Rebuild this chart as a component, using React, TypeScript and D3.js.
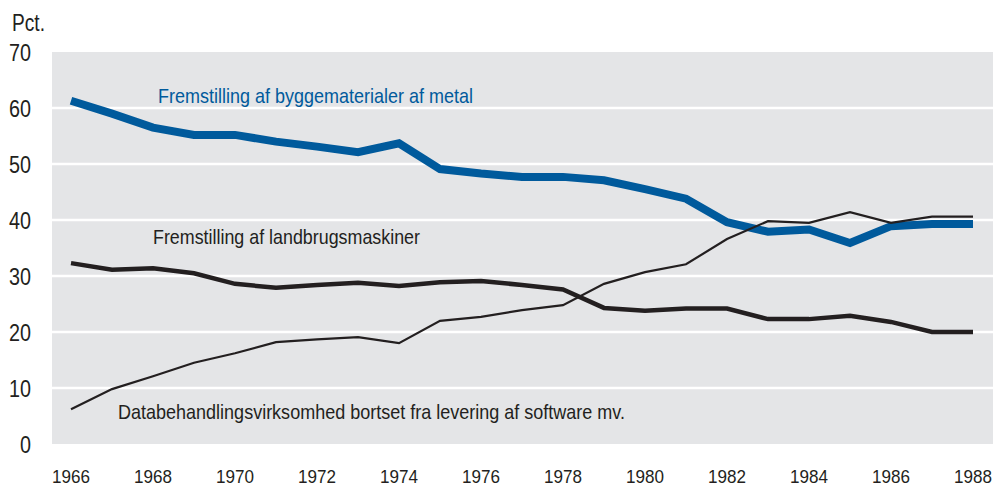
import React from "react";
import * as d3 from "d3";

// data
const years = [
	1966, 1967, 1968, 1969, 1970, 1971, 1972, 1973, 1974, 1975, 1976, 1977,
	1978, 1979, 1980, 1981, 1982, 1983, 1984, 1985, 1986, 1987, 1988,
];
const metal = [
	61.3, 59.0, 56.5, 55.2, 55.2, 54.0, 53.1, 52.1, 53.7, 49.1, 48.3, 47.7,
	47.7, 47.1, 45.5, 43.8, 39.6, 37.9, 38.3, 35.9, 38.9, 39.3, 39.3,
];
const landbrug = [
	32.3, 31.1, 31.4, 30.5, 28.6, 27.9, 28.4, 28.8, 28.2, 28.9, 29.1, 28.4,
	27.6, 24.3, 23.8, 24.2, 24.2, 22.3, 22.3, 22.9, 21.8, 20.0, 20.0,
];
const databeh = [
	6.2, 9.8, 12.1, 14.5, 16.2, 18.2, 18.7, 19.1, 18.0, 22.0, 22.7, 23.9,
	24.8, 28.6, 30.7, 32.1, 36.6, 39.8, 39.5, 41.4, 39.5, 40.6, 40.6,
];
const yTicks = [0, 10, 20, 30, 40, 50, 60, 70];
const xTicks = [1966, 1968, 1970, 1972, 1974, 1976, 1978, 1980, 1982, 1984, 1986, 1988];

const font = "'Liberation Sans', Arial, Helvetica, sans-serif";
const blue = "#005a9c";
const ink = "#231f20";

const App = () => {
	const width = 995;
	const height = 488;
	const plotLeft = 52;
	const plotRight = 993;

	const xScale = d3.scaleLinear().domain([1966, 1988]).range([71, 973]);
	const yScale = d3.scaleLinear().domain([0, 70]).range([444, 52]);

	const line = d3
		.line<number>()
		.x((d, i) => xScale(years[i]))
		.y((d) => yScale(d));

	// condensed look: squeeze glyphs to the widths measured on the reference
	const squeeze = { lengthAdjust: "spacingAndGlyphs" as const };

	return (
		<svg
			width={width}
			height={height}
			style={{ position: "absolute", left: 0, top: 0, background: "#fff" }}
			fontFamily={font}
		>
			<rect
				x={plotLeft}
				y={yScale(70)}
				width={plotRight - plotLeft}
				height={yScale(0) - yScale(70)}
				fill="#e4e5e7"
			/>
			{yTicks
				.filter((t) => t > 0 && t < 70)
				.map((t) => (
					<line
						key={t}
						x1={plotLeft}
						x2={plotRight}
						y1={yScale(t)}
						y2={yScale(t)}
						stroke="#fff"
						strokeWidth={2.5}
					/>
				))}
			{yTicks.map((t) => (
				<text
					key={t}
					x={31}
					y={yScale(t) + 8.5}
					textAnchor="end"
					fontSize={23}
					fill={ink}
					textLength={String(t).length * 11}
					{...squeeze}
				>
					{t}
				</text>
			))}
			<text x={12} y={31} fontSize={23} fill={ink} textLength={33} {...squeeze}>
				Pct.
			</text>
			{xTicks.map((t) => (
				<text
					key={t}
					x={xScale(t)}
					y={483}
					textAnchor="middle"
					fontSize={19}
					fill={ink}
					textLength={38}
					{...squeeze}
				>
					{t}
				</text>
			))}

			<path d={line(metal) || ""} fill="none" stroke={blue} strokeWidth={8} />
			<path d={line(landbrug) || ""} fill="none" stroke={ink} strokeWidth={4.5} />
			<path d={line(databeh) || ""} fill="none" stroke={ink} strokeWidth={2.2} />

			<text x={158} y={103} fontSize={21} fill={blue} textLength={315} {...squeeze}>
				Fremstilling af byggematerialer af metal
			</text>
			<text x={153} y={244} fontSize={21} fill={ink} textLength={267} {...squeeze}>
				Fremstilling af landbrugsmaskiner
			</text>
			<text x={118} y={419} fontSize={21} fill={ink} textLength={507} {...squeeze}>
				Databehandlingsvirksomhed bortset fra levering af software mv.
			</text>
		</svg>
	);
};

export default App;
